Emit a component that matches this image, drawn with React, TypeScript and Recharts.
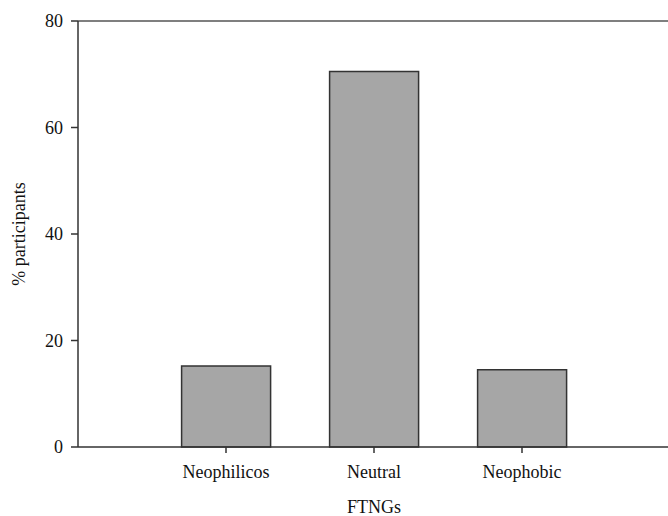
import React from 'react';
import { BarChart, Bar, XAxis, YAxis, ReferenceLine } from 'recharts';

const groups = ['Neophilicos', 'Neutral', 'Neophobic'];
const participants = [15.2, 70.5, 14.5];
const yTicks = [0, 20, 40, 60, 80];

const data = groups.map((g, i) => ({ group: g, pct: participants[i] }));

const font = 'Liberation Serif, serif';
const axisColor = '#333';

const YLabel = (props: any) => {
    const { viewBox } = props;
    const cx = 18.5;
    const cy = viewBox.y + viewBox.height / 2;
    return (
        <text
            x={cx}
            y={cy}
            transform={`rotate(-90 ${cx} ${cy})`}
            textAnchor="middle"
            dominantBaseline="central"
            style={{ fontFamily: font }}
            fontSize={18}
            fill="#111"
        >
            % participants
        </text>
    );
};

export default function App() {
    return (
        <div style={{ position: 'absolute', left: 0, top: 0, width: 668, height: 516, overflow: 'hidden', background: '#fff', fontFamily: font }}>
            <BarChart
                width={680}
                height={516}
                data={data}
                margin={{ top: 21, right: 10, left: 0, bottom: 0 }}
                barCategoryGap="20%"
                style={{ fontFamily: font }}
            >
                <XAxis
                    dataKey="group"
                    height={69}
                    padding={{ left: 74, right: 74 }}
                    tickSize={6}
                    tickMargin={12}
                    stroke={axisColor}
                    strokeWidth={1.5}
                    tick={{ fontFamily: font, fontSize: 18, fill: '#111' }}
                    label={{ value: 'FTNGs', position: 'insideBottom', offset: 3, fontFamily: font, fontSize: 18, fill: '#111' }}
                />
                <YAxis
                    width={78}
                    domain={[0, 80]}
                    ticks={yTicks}
                    tickSize={7}
                    tickMargin={8}
                    stroke={axisColor}
                    strokeWidth={1.5}
                    tick={{ fontFamily: font, fontSize: 18, fill: '#111' }}
                    label={<YLabel />}
                />
                <ReferenceLine y={80} stroke="#555" strokeWidth={1.5} />
                <Bar
                    dataKey="pct"
                    fill="#a6a6a6"
                    stroke={axisColor}
                    strokeWidth={1.5}
                    isAnimationActive={false}
                />
            </BarChart>
        </div>
    );
}
